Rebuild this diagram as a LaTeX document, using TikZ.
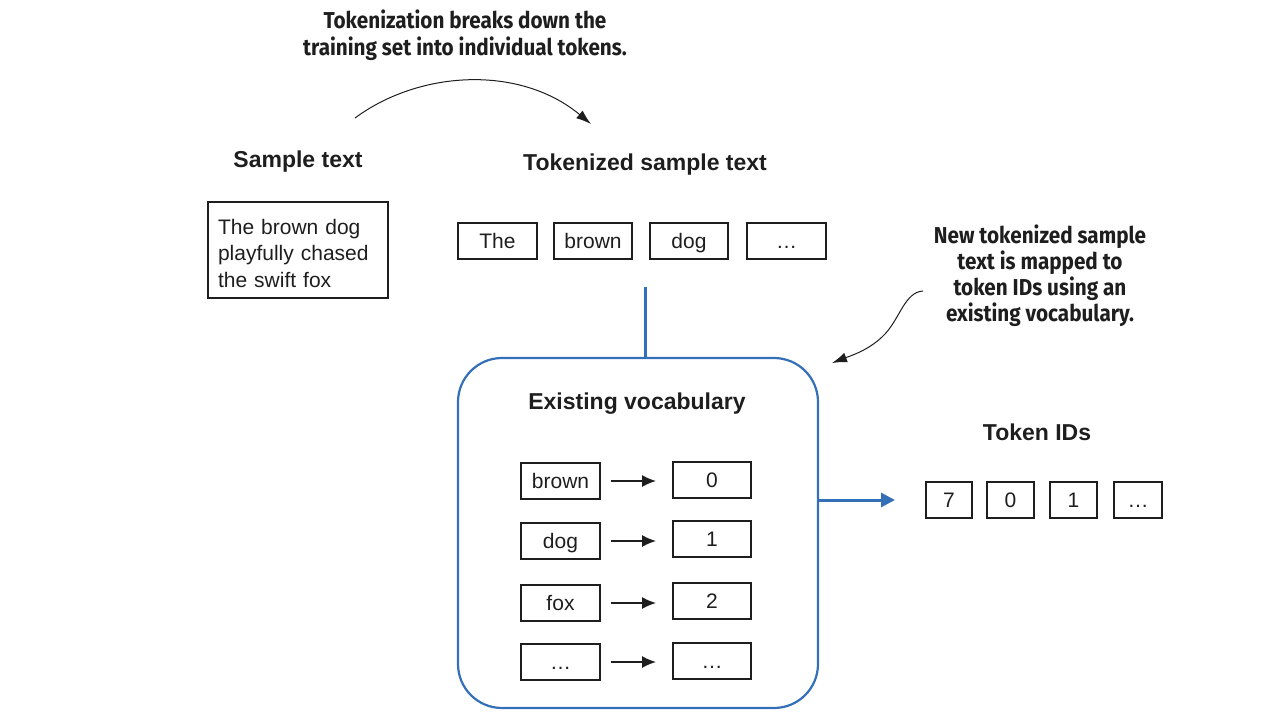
\documentclass[tikz,border=0pt]{standalone}
\usepackage{fontspec}
\setmainfont{Liberation Sans}
\newfontfamily\notefont[FakeStretch=0.9]{Fira Sans}
\usetikzlibrary{arrows.meta}
\definecolor{vblue}{RGB}{52,112,184}
\definecolor{ink}{RGB}{30,30,30}
\tikzset{
  box/.style={draw=ink, line width=1.8pt, minimum height=36pt, inner sep=0pt, text height=15pt, text depth=0pt, font=\fontsize{21}{25}\selectfont, text=ink},
  head/.style={font=\fontsize{23}{27}\selectfont\bfseries, text=ink},
  note/.style={font=\notefont\fontsize{23}{26}\selectfont\bfseries, text=ink, align=center},
  blk/.style={-{Latex[length=14pt,width=12pt]}, line width=1.6pt, draw=ink},
  thin/.style={-{Latex[length=15pt,width=10pt]}, line width=1pt, draw=ink},
}
\begin{document}
\begin{tikzpicture}[x=1pt,y=-1pt]
\useasboundingbox (0,0) rectangle (1283,728);
% annotation 1
\node[note, font=\notefont\fontsize{23}{27}\selectfont\bfseries] (n1) at (465,35.5) {Tokenization breaks down the\\training set into individual tokens.};
\coordinate (c1s) at (355,118);
\coordinate (c1e) at (591,124);
\draw[thin] (c1s) .. controls (420,70) and (520,65) .. (c1e);
% sample text
\node[head] (st) at (298,162) {Sample text};
\node[draw=ink, line width=1.8pt, minimum width=180pt, minimum height=96pt] (sbox) at (298,250) {};
\node[align=left, text width=160pt, font=\fontsize{21}{26.5}\selectfont, text=ink] (stext) at ([yshift=-3pt]sbox.center) {The brown dog\\playfully chased\\the swift fox};
% tokenized
\node[head] (tst) at (645,165) {Tokenized sample text};
\node[box, minimum width=79pt] (t1) at (497.5,241) {The};
\node[box, minimum width=78pt] (t2) at (593,241) {brown};
\node[box, minimum width=78pt] (t3) at (689,241) {dog};
\node[box, minimum width=79pt] (t4) at (786.5,241) {\ldots};
% vocabulary box
\node[draw=vblue, line width=2.2pt, rounded corners=44pt, minimum width=360pt, minimum height=350pt, inner sep=0pt] (vocab) at (638,533) {};
\coordinate (vtop) at (645,287);
\draw[vblue, line width=3pt] (vtop) -- (vtop |- vocab.north);
\node[head] (ev) at (637,404) {Existing vocabulary};
\foreach \i/\w/\n/\yl/\yr in {1/brown/0/481/480, 2/dog/1/541/539, 3/fox/2/603/601, 4/\ldots/\ldots/662/661} {
  \node[box, minimum width=79pt] (l\i) at (560.5,\yl) {\w};
  \node[box, minimum width=78pt] (r\i) at (712,\yr) {\n};
  \draw[blk] ([xshift=10pt]l\i.east) -- ([xshift=-16pt]r\i.west |- l\i.east);
}
% token IDs
\node[head] (tid) at (1037,432) {Token IDs};
\node[box, minimum width=46pt] (i1) at (949,500) {7};
\node[box, minimum width=47pt] (i2) at (1010.5,500) {0};
\node[box, minimum width=47pt] (i3) at (1073.5,500) {1};
\node[box, minimum width=48pt] (i4) at (1138,500) {\ldots};
\coordinate (aend) at (895,500);
\draw[vblue, line width=3pt, -{Triangle[length=14pt,width=14pt]}] (vocab.east |- aend) -- (aend);
% annotation 2
\node[note] (n2) at (1040,276) {New tokenized sample\\text is mapped to\\token IDs using an\\existing vocabulary.};
\coordinate (c2s) at (923,291);
\coordinate (c2e) at (832,363);
\draw[thin] (c2s) .. controls (905,292) and (900,318) .. (885,334) .. controls (870,350) and (850,356) .. (c2e);
\end{tikzpicture}
\end{document}
